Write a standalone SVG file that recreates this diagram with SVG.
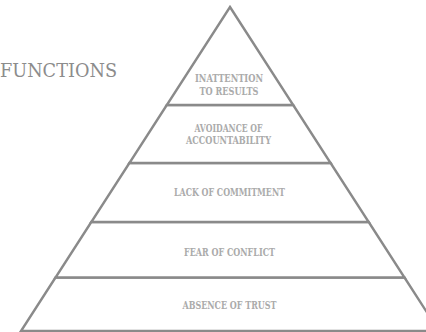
<svg xmlns="http://www.w3.org/2000/svg" width="426" height="332" viewBox="0 0 426 332">
  <style>
    .tier { fill: #ffffff; stroke: #8a8a8a; stroke-width: 2.4; stroke-linejoin: miter; }
    .label { font-family: "DejaVu Serif Condensed", "DejaVu Serif", serif; font-size: 10.5px; font-weight: bold; fill: #ababab; text-anchor: middle; }
    .title { font-family: "DejaVu Serif Condensed", "DejaVu Serif", serif; font-size: 18px; fill: #8c8c8c; }
  </style>
  <rect width="426" height="332" fill="#ffffff"/>

  <!-- heading, running off the left edge -->
  <text class="title" x="0" y="77" textLength="117" lengthAdjust="spacingAndGlyphs">FUNCTIONS</text>

  <!-- pyramid tiers, bottom to top -->
  <g id="tier-trust">
    <polygon class="tier" points="55.5,277.5 404.5,277.5 439,331 21,331"/>
    <text class="label" x="229.5" y="309" textLength="94" lengthAdjust="spacingAndGlyphs">ABSENCE OF TRUST</text>
  </g>
  <g id="tier-conflict">
    <polygon class="tier" points="91.3,222 368.7,222 404.5,277.5 55.5,277.5"/>
    <text class="label" x="229.5" y="256" textLength="91" lengthAdjust="spacingAndGlyphs">FEAR OF CONFLICT</text>
  </g>
  <g id="tier-commitment">
    <polygon class="tier" points="129.4,163 330.6,163 368.7,222 91.3,222"/>
    <text class="label" x="229.5" y="196" textLength="111" lengthAdjust="spacingAndGlyphs">LACK OF COMMITMENT</text>
  </g>
  <g id="tier-accountability">
    <polygon class="tier" points="166.8,105 293.2,105 330.6,163 129.4,163"/>
    <text class="label" x="228.5" y="132" textLength="68" lengthAdjust="spacingAndGlyphs">AVOIDANCE OF</text>
    <text class="label" x="228.5" y="143.5" textLength="85" lengthAdjust="spacingAndGlyphs">ACCOUNTABILITY</text>
  </g>
  <g id="tier-results">
    <polygon class="tier" points="230,7 293.2,105 166.8,105"/>
    <text class="label" x="229" y="82" textLength="68" lengthAdjust="spacingAndGlyphs">INATTENTION</text>
    <text class="label" x="229" y="95" textLength="59" lengthAdjust="spacingAndGlyphs">TO RESULTS</text>
  </g>
</svg>
